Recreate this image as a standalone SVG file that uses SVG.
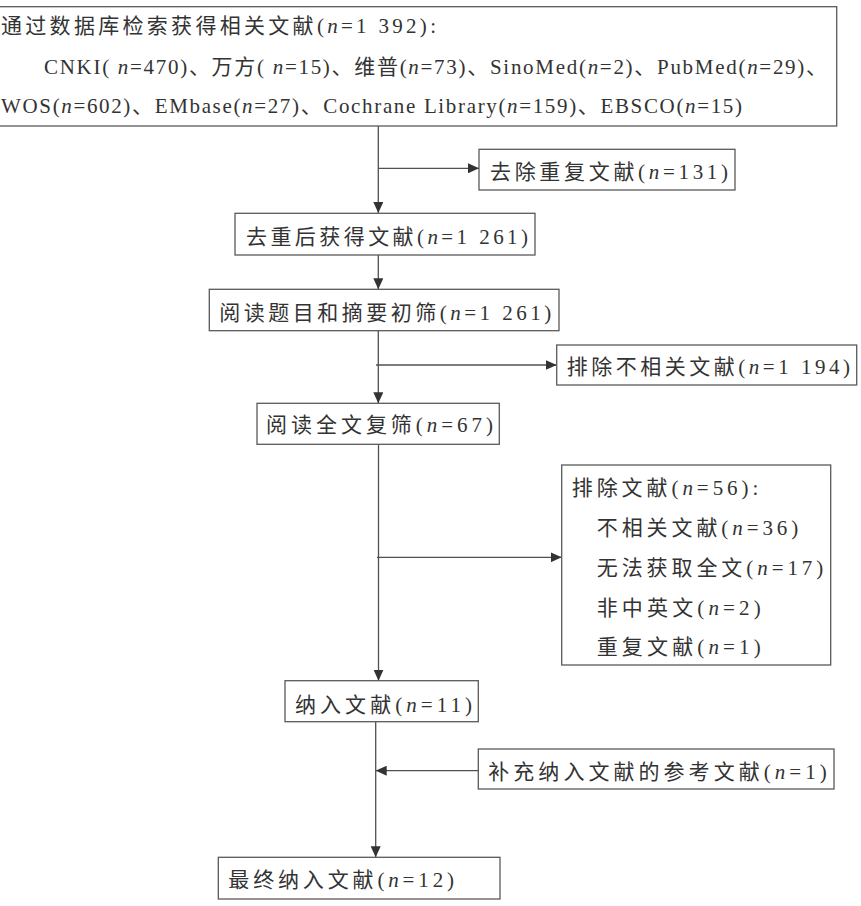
<svg xmlns="http://www.w3.org/2000/svg" width="861" height="906" viewBox="0 0 861 906">
<style>
.box{fill:#fff;stroke:#5a5a5a;stroke-width:1.3}
.t{font-family:'Liberation Serif','Noto Sans CJK SC',serif;font-size:21px;fill:#333}
.i{font-style:italic}
.c{stroke:#505050;stroke-width:1.3;fill:none}
</style>
<defs>
<marker id="ah" markerUnits="userSpaceOnUse" markerWidth="11" markerHeight="10" refX="11" refY="5" orient="auto">
<path d="M0,0 L11,5 L0,10 z" fill="#333"/>
</marker>
</defs>
<rect width="861" height="906" fill="#fff"/>
<g id="connectors">
<line class="c" x1="378.3" y1="126" x2="378.3" y2="213" marker-end="url(#ah)"/>
<line class="c" x1="378.3" y1="168.3" x2="479" y2="168.3" marker-end="url(#ah)"/>
<line class="c" x1="378.3" y1="255" x2="378.3" y2="289.3" marker-end="url(#ah)"/>
<line class="c" x1="378.3" y1="330.7" x2="378.3" y2="403.3" marker-end="url(#ah)"/>
<line class="c" x1="376" y1="365" x2="556.7" y2="365" marker-end="url(#ah)"/>
<line class="c" x1="378.5" y1="444.3" x2="378.5" y2="680.7" marker-end="url(#ah)"/>
<line class="c" x1="377" y1="557.3" x2="561.7" y2="557.3" marker-end="url(#ah)"/>
<line class="c" x1="375.7" y1="721.7" x2="375.7" y2="857.3" marker-end="url(#ah)"/>
<line class="c" x1="478.3" y1="770.7" x2="375.7" y2="770.7" marker-end="url(#ah)"/>
</g>
<g id="n-search">
<rect class="box" x="-10" y="6.7" width="846.7" height="119.3"/>
<text class="t" x="1" y="33" textLength="435" lengthAdjust="spacing">通过数据库检索获得相关文献(<tspan class="i">n</tspan>=1 392):</text>
<text class="t" x="44" y="74" textLength="783" lengthAdjust="spacing">CNKI( <tspan class="i">n</tspan>=470)、万方( <tspan class="i">n</tspan>=15)、维普(<tspan class="i">n</tspan>=73)、SinoMed(<tspan class="i">n</tspan>=2)、PubMed(<tspan class="i">n</tspan>=29)、</text>
<text class="t" x="1" y="113" textLength="741" lengthAdjust="spacing">WOS(<tspan class="i">n</tspan>=602)、EMbase(<tspan class="i">n</tspan>=27)、Cochrane Library(<tspan class="i">n</tspan>=159)、EBSCO(<tspan class="i">n</tspan>=15)</text>
</g>
<g id="n-dup">
<rect class="box" x="479" y="149.3" width="256" height="40.7"/>
<text class="t" x="490" y="179" textLength="238" lengthAdjust="spacing">去除重复文献(<tspan class="i">n</tspan>=131)</text>
</g>
<g id="n-dedup">
<rect class="box" x="235" y="213.3" width="300" height="41.7"/>
<text class="t" x="246" y="244" textLength="282" lengthAdjust="spacing">去重后获得文献(<tspan class="i">n</tspan>=1 261)</text>
</g>
<g id="n-title">
<rect class="box" x="209.3" y="289.3" width="349.7" height="41.4"/>
<text class="t" x="219.3" y="320" textLength="332" lengthAdjust="spacing">阅读题目和摘要初筛(<tspan class="i">n</tspan>=1 261)</text>
</g>
<g id="n-irrel">
<rect class="box" x="556.7" y="345" width="300" height="40"/>
<text class="t" x="566.7" y="374" textLength="283.3" lengthAdjust="spacing">排除不相关文献(<tspan class="i">n</tspan>=1 194)</text>
</g>
<g id="n-full">
<rect class="box" x="257" y="403.3" width="242.3" height="41"/>
<text class="t" x="266" y="432" textLength="227" lengthAdjust="spacing">阅读全文复筛(<tspan class="i">n</tspan>=67)</text>
</g>
<g id="n-excl">
<rect class="box" x="561.7" y="465" width="269" height="200"/>
<text class="t" x="571.7" y="495" textLength="186.6" lengthAdjust="spacing">排除文献(<tspan class="i">n</tspan>=56):</text>
<text class="t" x="596.7" y="535" textLength="201.6" lengthAdjust="spacing">不相关文献(<tspan class="i">n</tspan>=36)</text>
<text class="t" x="596.7" y="575" textLength="226.6" lengthAdjust="spacing">无法获取全文(<tspan class="i">n</tspan>=17)</text>
<text class="t" x="596.7" y="615" textLength="164" lengthAdjust="spacing">非中英文(<tspan class="i">n</tspan>=2)</text>
<text class="t" x="596.7" y="654" textLength="164" lengthAdjust="spacing">重复文献(<tspan class="i">n</tspan>=1)</text>
</g>
<g id="n-incl">
<rect class="box" x="285" y="680.7" width="193.3" height="41"/>
<text class="t" x="295" y="712" textLength="177" lengthAdjust="spacing">纳入文献(<tspan class="i">n</tspan>=11)</text>
</g>
<g id="n-supp">
<rect class="box" x="478.3" y="749" width="355.7" height="40"/>
<text class="t" x="488.3" y="779" textLength="338.4" lengthAdjust="spacing">补充纳入文献的参考文献(<tspan class="i">n</tspan>=1)</text>
</g>
<g id="n-final">
<rect class="box" x="218.3" y="857.3" width="281.7" height="41.7"/>
<text class="t" x="228.3" y="887" textLength="225.7" lengthAdjust="spacing">最终纳入文献(<tspan class="i">n</tspan>=12)</text>
</g>
</svg>
